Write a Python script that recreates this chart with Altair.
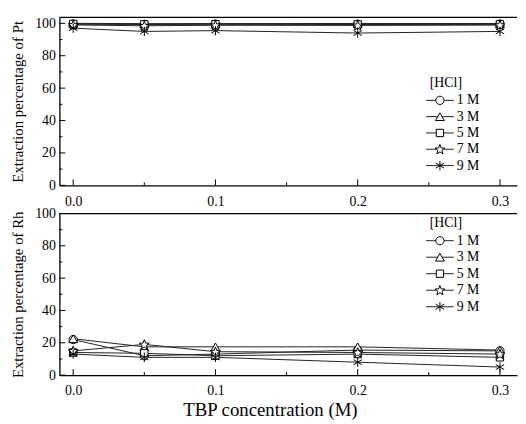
import math
import altair as alt
import pandas as pd

# ---------------- data ----------------
tbp = [0.0, 0.05, 0.1, 0.2, 0.3]
series = ["1 M", "3 M", "5 M", "7 M", "9 M"]

pt_1M = [99.5, 99.3, 99.5, 99.4, 99.5]
pt_3M = [100.0, 99.8, 99.8, 99.9, 99.9]
pt_5M = [99.6, 99.4, 99.5, 99.3, 99.4]
pt_7M = [99.0, 98.5, 98.8, 98.7, 98.9]
pt_9M = [97.0, 95.0, 95.5, 94.0, 95.0]

rh_1M = [22.0, 12.0, 13.0, 15.5, 15.0]
rh_3M = [22.5, 17.5, 17.5, 17.5, 15.5]
rh_5M = [14.0, 13.5, 12.0, 13.0, 11.0]
rh_7M = [15.0, 19.0, 14.5, 14.0, 13.0]
rh_9M = [13.0, 11.0, 11.0, 8.0, 5.0]

y_major = [0, 20, 40, 60, 80, 100]
y_minor = [10, 30, 50, 70, 90]
x_major = [0.0, 0.1, 0.2, 0.3]
x_minor = [0.05, 0.15, 0.25]

# ---------------- styling ----------------
FONT = "serif"
W = 463

def star_path(n=5, r_out=1.0, r_in=0.42):
    pts = []
    for k in range(2 * n):
        r = r_out if k % 2 == 0 else r_in
        a = math.radians(-90 + k * 180 / n)
        pts.append((r * math.cos(a), r * math.sin(a) + 0.08))
    return "M" + "L".join(f"{x:.3f},{y:.3f}" for x, y in pts) + "Z"

ASTERISK = "M0,-1L0,1M-0.9,-0.55L0.9,0.55M-0.9,0.55L0.9,-0.55"
shapes = ["circle", "triangle-up", "square", star_path(), ASTERISK]
sizes = [70, 80, 55, 110, 90]


def panel(vals, ytitle, ydom, h, xtitle, leg_title_y, leg_y0, leg_dy):
    rows = []
    for s, v in zip(series, vals):
        for x, y in zip(tbp, v):
            rows.append({"hcl": s, "tbp": x, "val": y})
    df = pd.DataFrame(rows)
    xs = alt.Scale(domain=[-0.0097, 0.312], nice=False, zero=False)
    ys = alt.Scale(domain=ydom, nice=False, zero=False)

    if xtitle:
        xaxis = alt.Axis(values=x_major, format=".1f", title=xtitle, titleX=213,
                         titleAnchor="start", titleAlign="center",
                         labelFont=FONT, titleFont=FONT)
    else:
        xaxis = alt.Axis(values=x_major, format=".1f", title=None, labelFont=FONT)
    yaxis = alt.Axis(values=y_major, title=ytitle, labelFont=FONT, titleFont=FONT)

    def X(f):
        return alt.X(f, scale=xs, axis=xaxis, title=xtitle if xtitle else None)

    def Y(f):
        return alt.Y(f, scale=ys, axis=yaxis, title=ytitle)

    base = alt.Chart(df)
    lines = base.mark_line(color="#222", strokeWidth=1).encode(
        x=X("tbp:Q"), y=Y("val:Q"), detail="hcl:N",
    )
    layers = [lines]
    for s, shp, sz in zip(series, shapes, sizes):
        layers.append(
            alt.Chart(df[df.hcl == s]).mark_point(
                shape=shp, size=sz, fill="white", fillOpacity=1, filled=False,
                stroke="black", strokeWidth=1, opacity=1
            ).encode(x=X("tbp:Q"), y=Y("val:Q"))
        )

    # inward ticks
    for vals_t, ln in ((y_major, 6), (y_minor, 3)):
        layers.append(
            alt.Chart(pd.DataFrame({"v": vals_t})).mark_rule(color="black", strokeWidth=1).encode(
                y=Y("v:Q"), x=alt.value(0), x2=alt.value(ln))
        )
    for vals_t, ln in ((x_major, 6), (x_minor, 3)):
        layers.append(
            alt.Chart(pd.DataFrame({"v": vals_t})).mark_rule(color="black", strokeWidth=1).encode(
                x=X("v:Q"), y=alt.value(h), y2=alt.value(h - ln))
        )
    # top frame line
    layers.append(
        alt.Chart(pd.DataFrame({"a": [0]})).mark_rule(color="black", strokeWidth=1.3).encode(
            x=alt.value(0), x2=alt.value(W), y=alt.value(0))
    )

    # legend
    one = pd.DataFrame({"a": [0]})
    layers.append(
        alt.Chart(one).mark_text(text="[HCl]", font=FONT, fontSize=14, align="center",
                                 baseline="middle", color="black").encode(
            x=alt.value(391), y=alt.value(leg_title_y))
    )
    for i, (s, shp, sz) in enumerate(zip(series, shapes, sizes)):
        yy = leg_y0 + i * leg_dy
        layers.append(
            alt.Chart(one).mark_rule(color="#222", strokeWidth=1).encode(
                x=alt.value(371), x2=alt.value(399), y=alt.value(yy))
        )
        layers.append(
            alt.Chart(one).mark_point(shape=shp, size=sz, fill="white", fillOpacity=1,
                                      filled=False, stroke="black", strokeWidth=1,
                                      opacity=1).encode(
                x=alt.value(385), y=alt.value(yy))
        )
        layers.append(
            alt.Chart(one).mark_text(text=s, font=FONT, fontSize=14, align="left",
                                     baseline="middle", color="black").encode(
                x=alt.value(402), y=alt.value(yy))
        )
    return alt.layer(*layers).properties(width=W, height=h)


top = panel([pt_1M, pt_3M, pt_5M, pt_7M, pt_9M], "Extraction percentage of Pt",
            [0, 103.7], 170, None, 66, 84, 16.5)
bottom = panel([rh_1M, rh_3M, rh_5M, rh_7M, rh_9M], "Extraction percentage of Rh",
               [0, 100], 163.5, "TBP concentration (M)", 9.5, 27.5, 16.7)

chart = alt.vconcat(top, bottom, spacing=28.5, bounds="flush").properties(
    padding={"left": 3, "top": 6, "right": 0, "bottom": 0}
).configure_view(stroke=None).configure_axis(
    labelFontSize=14, labelColor="black", labelFont=FONT, titleFont=FONT,
    tickSize=0, labelOverlap=False, labelFlush=False, grid=False,
    domainColor="black", domainWidth=1.3, titleFontWeight="normal",
    titleColor="black"
).configure_axisY(
    labelPadding=4, titleFontSize=15, titlePadding=9
).configure_axisX(
    labelPadding=9, titleFontSize=19, titlePadding=3
)

chart.save("out.html", embed_options={"renderer": "svg", "actions": False})
